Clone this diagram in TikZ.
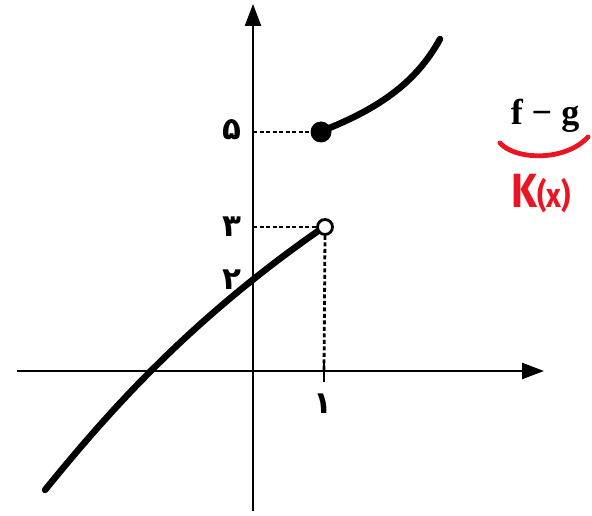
\documentclass[tikz,border=0pt]{standalone}
\usepackage{fontspec}
\setmainfont{Liberation Serif}
\newfontfamily\fa[Script=Arabic]{DejaVu Sans}
\newfontfamily\hand{Fira Sans}
\usetikzlibrary{arrows.meta}
\definecolor{penred}{RGB}{232,22,34}
\tikzset{
  axis/.style={line width=2.4pt,-{Triangle[length=22pt,width=16pt]}},
  curve/.style={line width=6.5pt,line cap=round},
  guide/.style={line width=2.8pt,dash pattern=on 4pt off 2.5pt},
  digit/.style={font=\fa\bfseries\fontsize{31}{31}\selectfont,inner sep=0pt},
  fulldot/.style={circle,fill=black,inner sep=0pt,minimum size=21pt},
  opendot/.style={circle,draw=black,fill=white,line width=2.8pt,inner sep=0pt,minimum size=15pt},
}
\begin{document}
\begin{tikzpicture}[x=1pt,y=-1pt]
\path[use as bounding box,fill=white] (0,0) rectangle (592,516);
% axes
\coordinate (xl) at (17,371);
\coordinate (xr) at (544,371);
\coordinate (yb) at (253,511);
\coordinate (yt) at (253,4);
\draw[axis] (xl) -- (xr);
\draw[axis] (yb) -- (yt);
% reference points on the axes
\coordinate (y5) at (253,132);
\coordinate (y3) at (253,227);
\coordinate (x1) at (324,371);
\coordinate (t1) at (324,360);
\coordinate (t2) at (324,382);
% curves
\coordinate (c0) at (45,490);
\coordinate (c1) at (321,229);
\coordinate (c2) at (322,131);
\coordinate (c3) at (440,39);
\draw[curve] (c0) .. controls (110,410) and (190,320) .. (c1);
\draw[curve] (c2) .. controls (375,110) and (415,85) .. (c3);
% points
\node[fulldot] (fd) at (321,132) {};
\node[opendot] (od) at (325,227) {};
% guides
\draw[guide] (y5) -- (fd.west);
\draw[guide] (y3) -- (od.west);
\draw[guide] (od.south) -- (x1);
\draw[line width=2.8pt] (t1) -- (t2);
% labels
\node[digit] (l5) at (232,130) {۵};
\node[digit] (l3) at (232,227) {۳};
\node[digit] (l2) at (232,280) {۲};
\node[digit] (l1) at (323,404) {۱};
% annotation
\node[font=\bfseries\fontsize{36}{36}\selectfont,inner sep=0pt] (fg) at (545,116) {f − g};
\coordinate (al) at (500,143);
\coordinate (ar) at (588,137);
\draw[penred,line width=4.8pt,line cap=round] (al) .. controls (515,160) and (565,162) .. (ar);
\node[penred,font=\hand\bfseries,inner sep=0pt,xscale=0.85] (kx) at (541,194)
  {\fontsize{48}{48}\selectfont K\fontsize{34}{34}\selectfont(x)};
\end{tikzpicture}
\end{document}
